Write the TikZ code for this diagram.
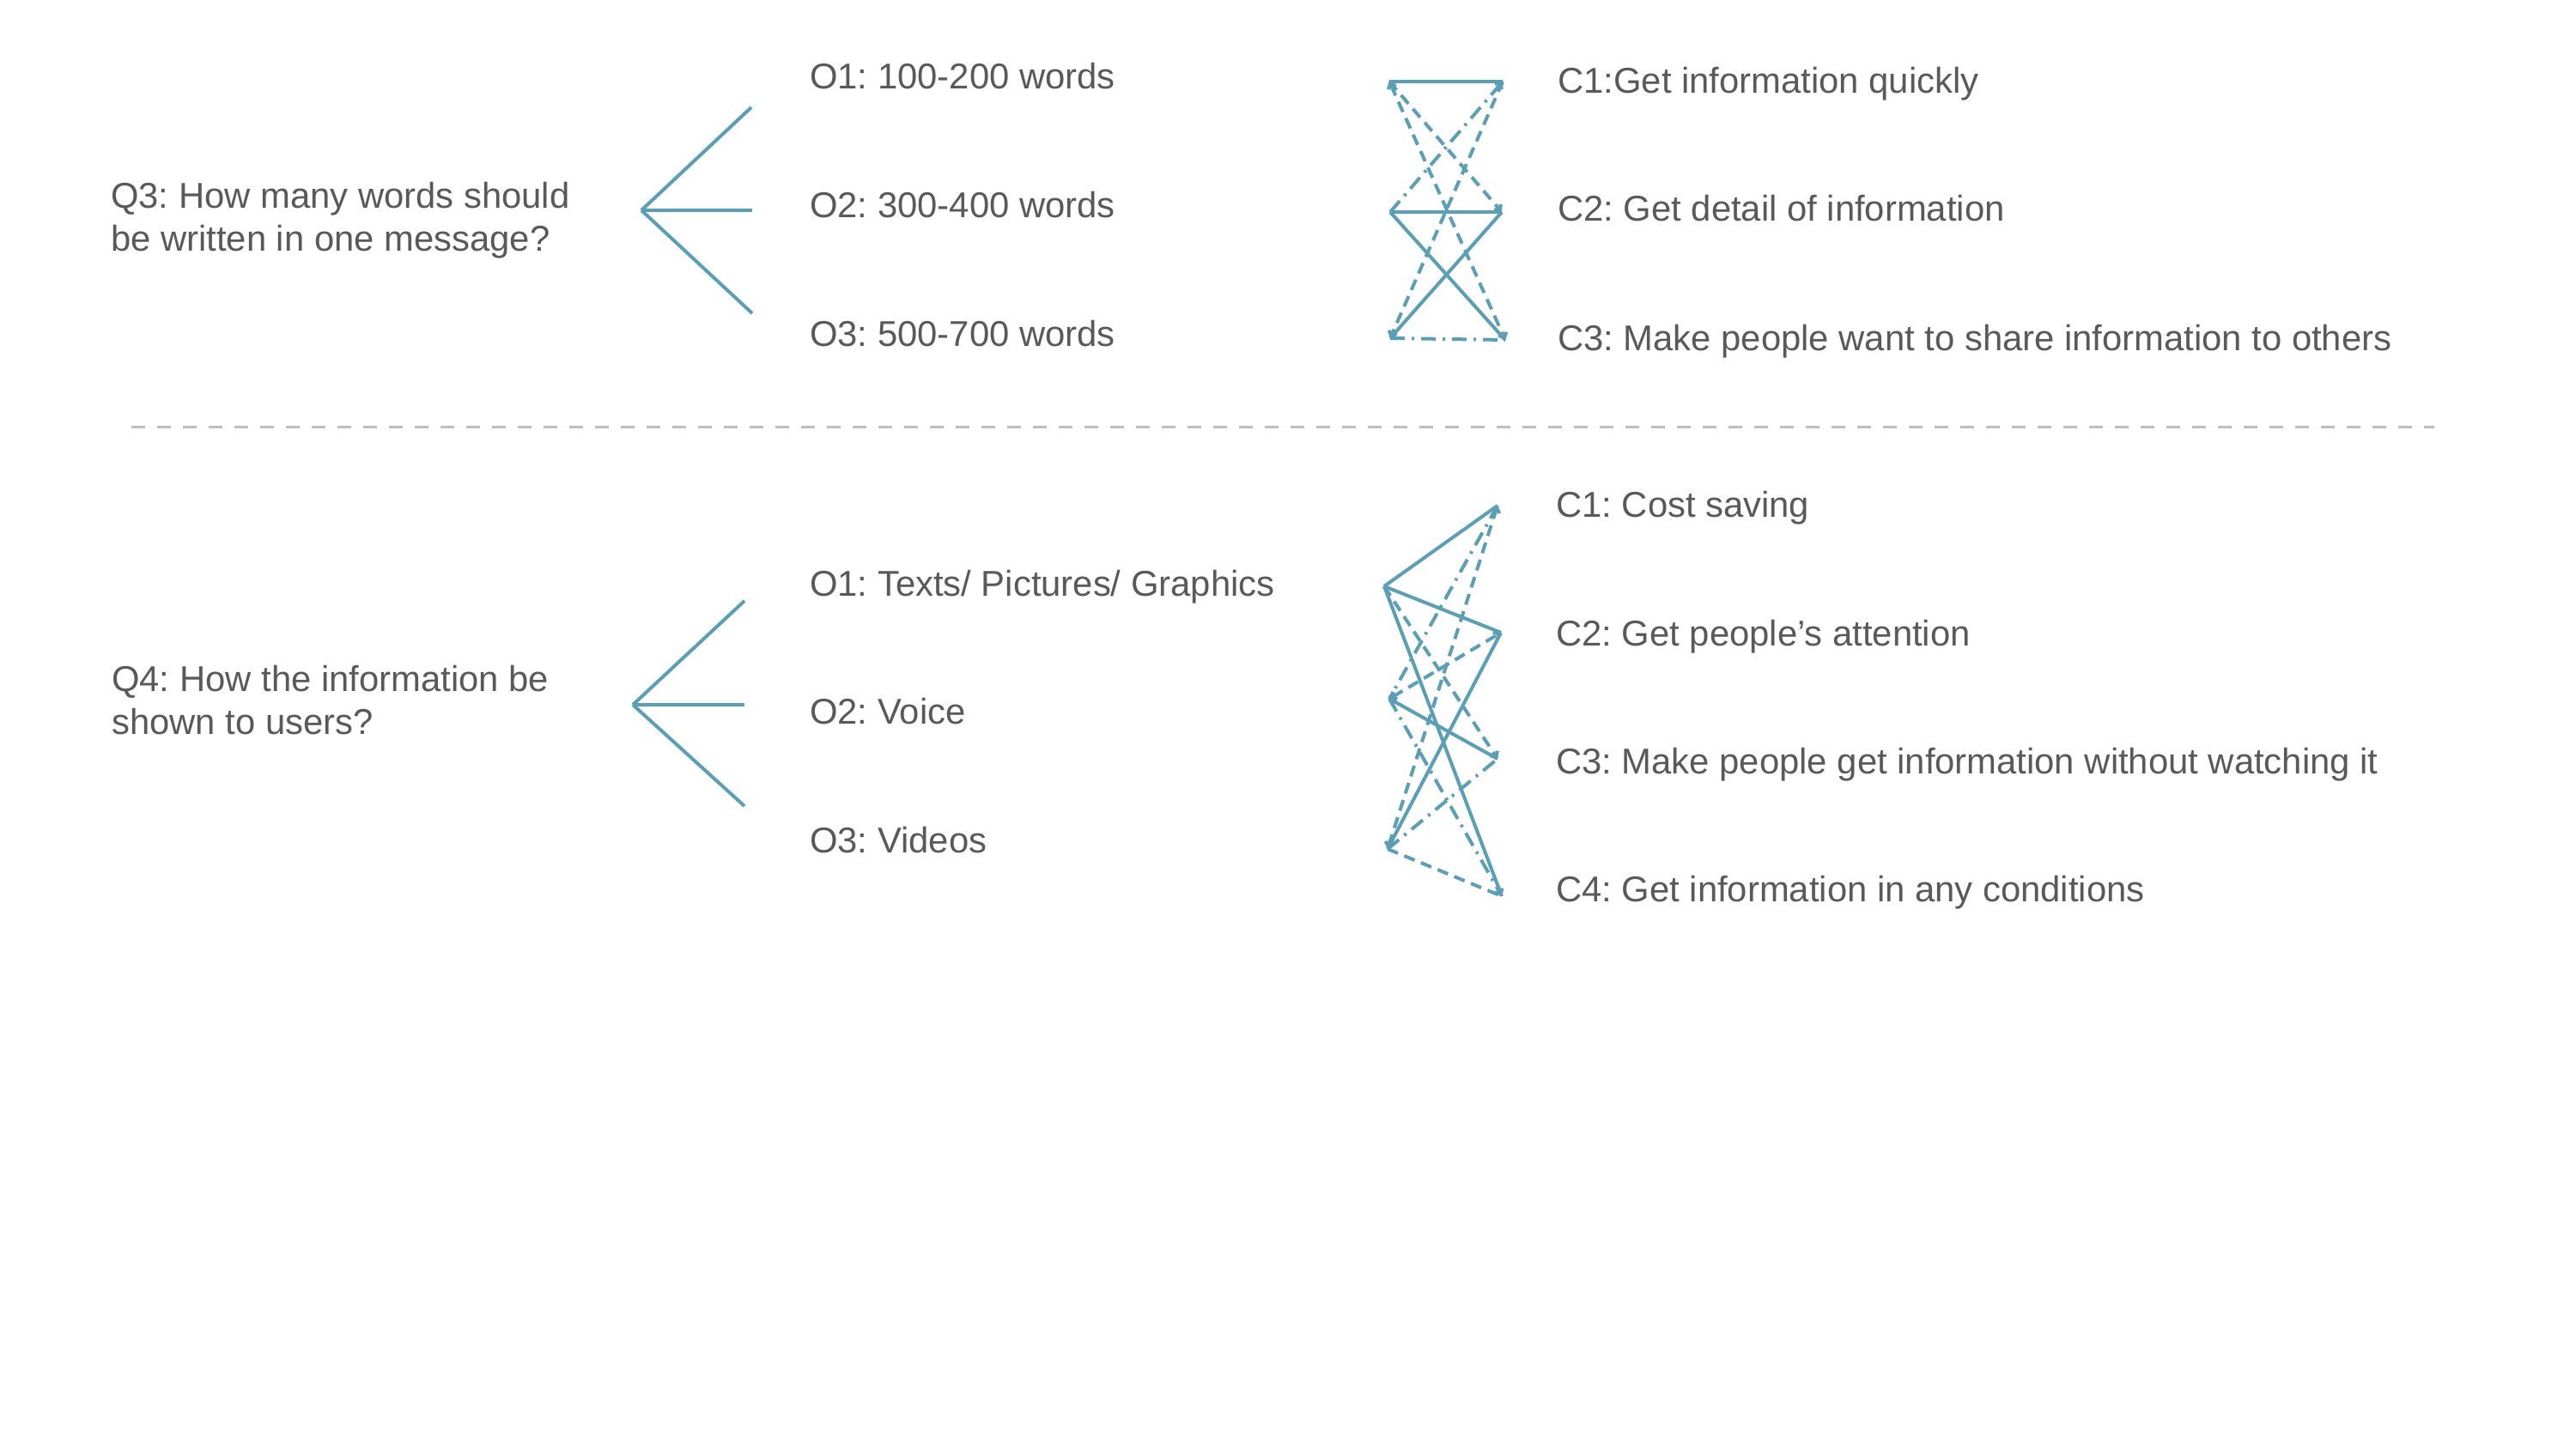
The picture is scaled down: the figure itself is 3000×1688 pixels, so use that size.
\documentclass[tikz,border=0pt]{standalone}
\usepackage{fontspec}
\setmainfont{Liberation Sans}
\usetikzlibrary{arrows.meta}
\definecolor{tealline}{RGB}{91,159,182}
\definecolor{txtgray}{RGB}{89,89,89}
\definecolor{sepgray}{RGB}{190,190,190}
\frenchspacing
\begin{document}
\begin{tikzpicture}[x=1pt,y=-1pt,
  lbl/.style={anchor=base west, inner sep=0pt, text=txtgray, font=\fontsize{41.8}{50}\selectfont},
  link/.style={draw=tealline, line width=4pt},
  solidl/.style={link},
  dashl/.style={link, dash pattern=on 13pt off 8pt},
  dotdashl/.style={link, dash pattern=on 17pt off 8pt on 3pt off 8pt},
  tipend/.style={-{Straight Barb[length=5pt,width=10pt]}},
  tipboth/.style={{Straight Barb[length=5pt,width=10pt]}-{Straight Barb[length=5pt,width=10pt]}},
  seprule/.style={draw=sepgray, line width=3pt, dash pattern=on 16pt off 14pt}]
\fill[white] (0,0) rectangle (3000,1688);
\useasboundingbox (0,0) rectangle (3000,1688);

% ---------- Q3 block ----------
\node[lbl] (q3a) at (129,243) {Q3: How many words should};
\node[lbl] (q3b) at (129,293) {be written in one message?};
\node[lbl] (o31) at (943,104) {O1: 100-200 words};
\node[lbl] (o32) at (943,254) {O2: 300-400 words};
\node[lbl] (o33) at (943,403) {O3: 500-700 words};
\node[lbl] (c31) at (1814,109) {C1:Get information quickly};
\node[lbl] (c32) at (1814,258) {C2: Get detail of information};
\node[lbl] (c33) at (1814,408) {C3: Make people want to share information to others};

\coordinate (fv3) at (747,245);
\coordinate (fa3) at (875,125);
\coordinate (fb3) at (876,245);
\coordinate (fc3) at (876,365);
\draw[solidl] (fv3) -- (fa3);
\draw[solidl] (fv3) -- (fb3);
\draw[solidl] (fv3) -- (fc3);

\coordinate (tl1) at (1618,95);
\coordinate (tl2) at (1619,247);
\coordinate (tl3) at (1619,394);
\coordinate (tr1) at (1750,95);
\coordinate (tr2) at (1749,247);
\coordinate (tr3) at (1753,396);
\draw[solidl] (tl1) -- (tr1);
\draw[solidl] (tl2) -- (tr2);
\draw[solidl] (tl2) -- (tr3);
\draw[solidl] (tr2) -- (tl3);
\draw[dashl,tipend] (tl1) -- (tr2);
\draw[dashl,tipboth] (tl1) -- (tr3);
\draw[dotdashl,tipend] (tl2) -- (tr1);
\draw[dashl,tipend] (tr1) -- (tl3);
\draw[dotdashl] (tl3) -- (tr3);

% ---------- separator ----------
\coordinate (s1) at (153,497);
\coordinate (s2) at (2835,497);
\draw[seprule] (s1) -- (s2);

% ---------- Q4 block ----------
\node[lbl] (q4a) at (130,805) {Q4: How the information be};
\node[lbl] (q4b) at (130,855) {shown to users?};
\node[lbl] (o41) at (943,694) {O1: Texts/ Pictures/ Graphics};
\node[lbl] (o42) at (943,843) {O2: Voice};
\node[lbl] (o43) at (943,993) {O3: Videos};
\node[lbl] (c41) at (1812,602) {C1: Cost saving};
\node[lbl] (c42) at (1812,752) {C2: Get people’s attention};
\node[lbl] (c43) at (1812,901) {C3: Make people get information without watching it};
\node[lbl] (c44) at (1812,1050) {C4: Get information in any conditions};

\coordinate (fv4) at (737,821);
\coordinate (fa4) at (867,700);
\coordinate (fb4) at (867,821);
\coordinate (fc4) at (867,939);
\draw[solidl] (fv4) -- (fa4);
\draw[solidl] (fv4) -- (fb4);
\draw[solidl] (fv4) -- (fc4);

\coordinate (bl1) at (1612,683);
\coordinate (bl2) at (1618,814);
\coordinate (bl3) at (1616,989);
\coordinate (br1) at (1744,589);
\coordinate (br2) at (1748,737);
\coordinate (br3) at (1744,884);
\coordinate (br4) at (1749,1044);
\draw[solidl] (bl1) -- (br1);
\draw[solidl] (bl1) -- (br2);
\draw[dashl,tipend] (bl1) -- (br3);
\draw[solidl] (bl1) -- (br4);
\draw[dotdashl] (br1) -- (bl2);
\draw[dashl,tipboth] (bl2) -- (br2);
\draw[solidl] (bl2) -- (br3);
\draw[dotdashl,tipend] (bl2) -- (br4);
\draw[dashl,tipboth] (bl3) -- (br1);
\draw[solidl] (br2) -- (bl3);
\draw[dotdashl] (bl3) -- (br3);
\draw[dashl] (bl3) -- (br4);
\end{tikzpicture}
\end{document}
